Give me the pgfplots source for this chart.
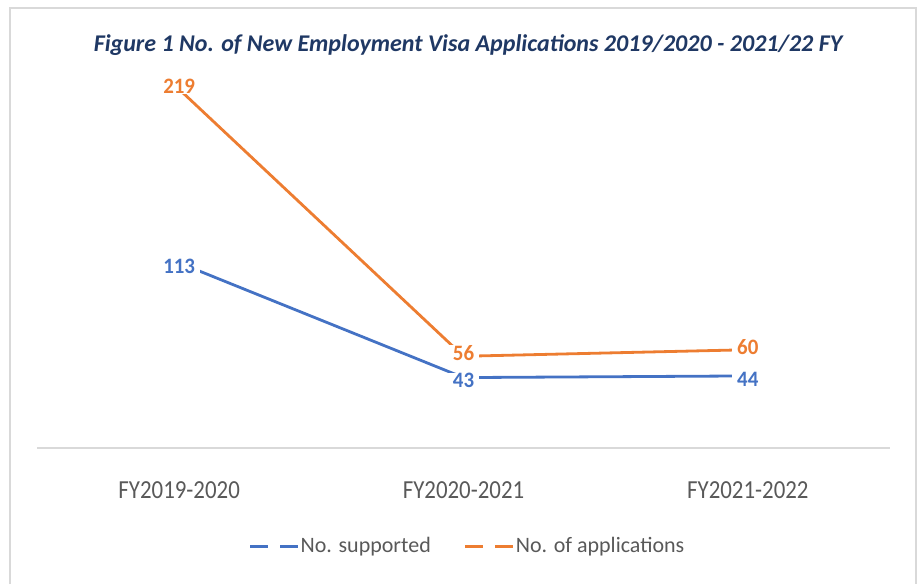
\documentclass[border=0pt]{standalone}
\usepackage{pgfplots}
\pgfplotsset{compat=1.18}
\usepackage{fontspec}
\setmainfont{Carlito}
\definecolor{cblue}{HTML}{4472C4}
\definecolor{corange}{HTML}{ED7D31}
\definecolor{ctitle}{HTML}{1F3864}
\definecolor{ctext}{HTML}{595959}
\definecolor{cgrid}{HTML}{D9D9D9}
\begin{document}
\begin{tikzpicture}[x=1pt,y=1pt]
\useasboundingbox (0,0) rectangle (918,584);
% frame of the chart area (cropped at the bottom)
\draw[cgrid, line width=1.8pt] (10,0) -- (10,576) -- (916,576) -- (916,0);
\node[font=\fontsize{24}{28}\selectfont\bfseries\itshape, text=ctitle] at (468,539)
  {Figure 1 No. of New Employment Visa Applications 2019/2020 - 2021/22 FY};
\begin{axis}[
    at={(37pt,136pt)}, anchor=south west,
    scale only axis, width=853pt, height=409.5pt,
    xmin=-0.5, xmax=2.5, ymin=0, ymax=250,
    axis x line*=bottom, axis y line=none,
    x axis line style={cgrid, line width=1.5pt, -},
    xtick={0,1,2}, major tick length=0pt,
    xticklabels={FY2019-2020, FY2020-2021, FY2021-2022},
    xticklabel style={font=\fontsize{26}{30}\selectfont, text=ctext, anchor=center, yshift=-42pt, xscale=0.88},
    clip=false,
    nodes near coords,
    /pgf/number format/assume math mode=true,
    every node near coord/.append style={anchor=center, font=\fontsize{22}{24}\selectfont\bfseries,
        fill=white, inner xsep=5pt, inner ysep=0.5pt, xscale=0.95},
    legend style={at={(430pt,-98pt)}, anchor=center, draw=none, fill=none,
        legend columns=2, font=\fontsize{22}{26}\selectfont, text=ctext,
        nodes={inner xsep=1pt},
        /tikz/every even column/.append style={column sep=32pt}},
    legend image code/.code={\draw[#1, dash pattern=on 18pt off 12pt, line width=3pt] (0pt,0pt) -- (48pt,0pt);},
]
\addplot[cblue, line width=2.8pt, every node near coord/.append style={text=cblue, yshift=-3pt}]
  coordinates {(0,113) (1,43) (2,44)};
\addlegendentry{No. supported}
\addplot[corange, line width=2.8pt, every node near coord/.append style={text=corange, yshift=3pt}]
  coordinates {(0,219) (1,56) (2,60)};
\addlegendentry{No. of applications}
\end{axis}
\end{tikzpicture}
\end{document}
